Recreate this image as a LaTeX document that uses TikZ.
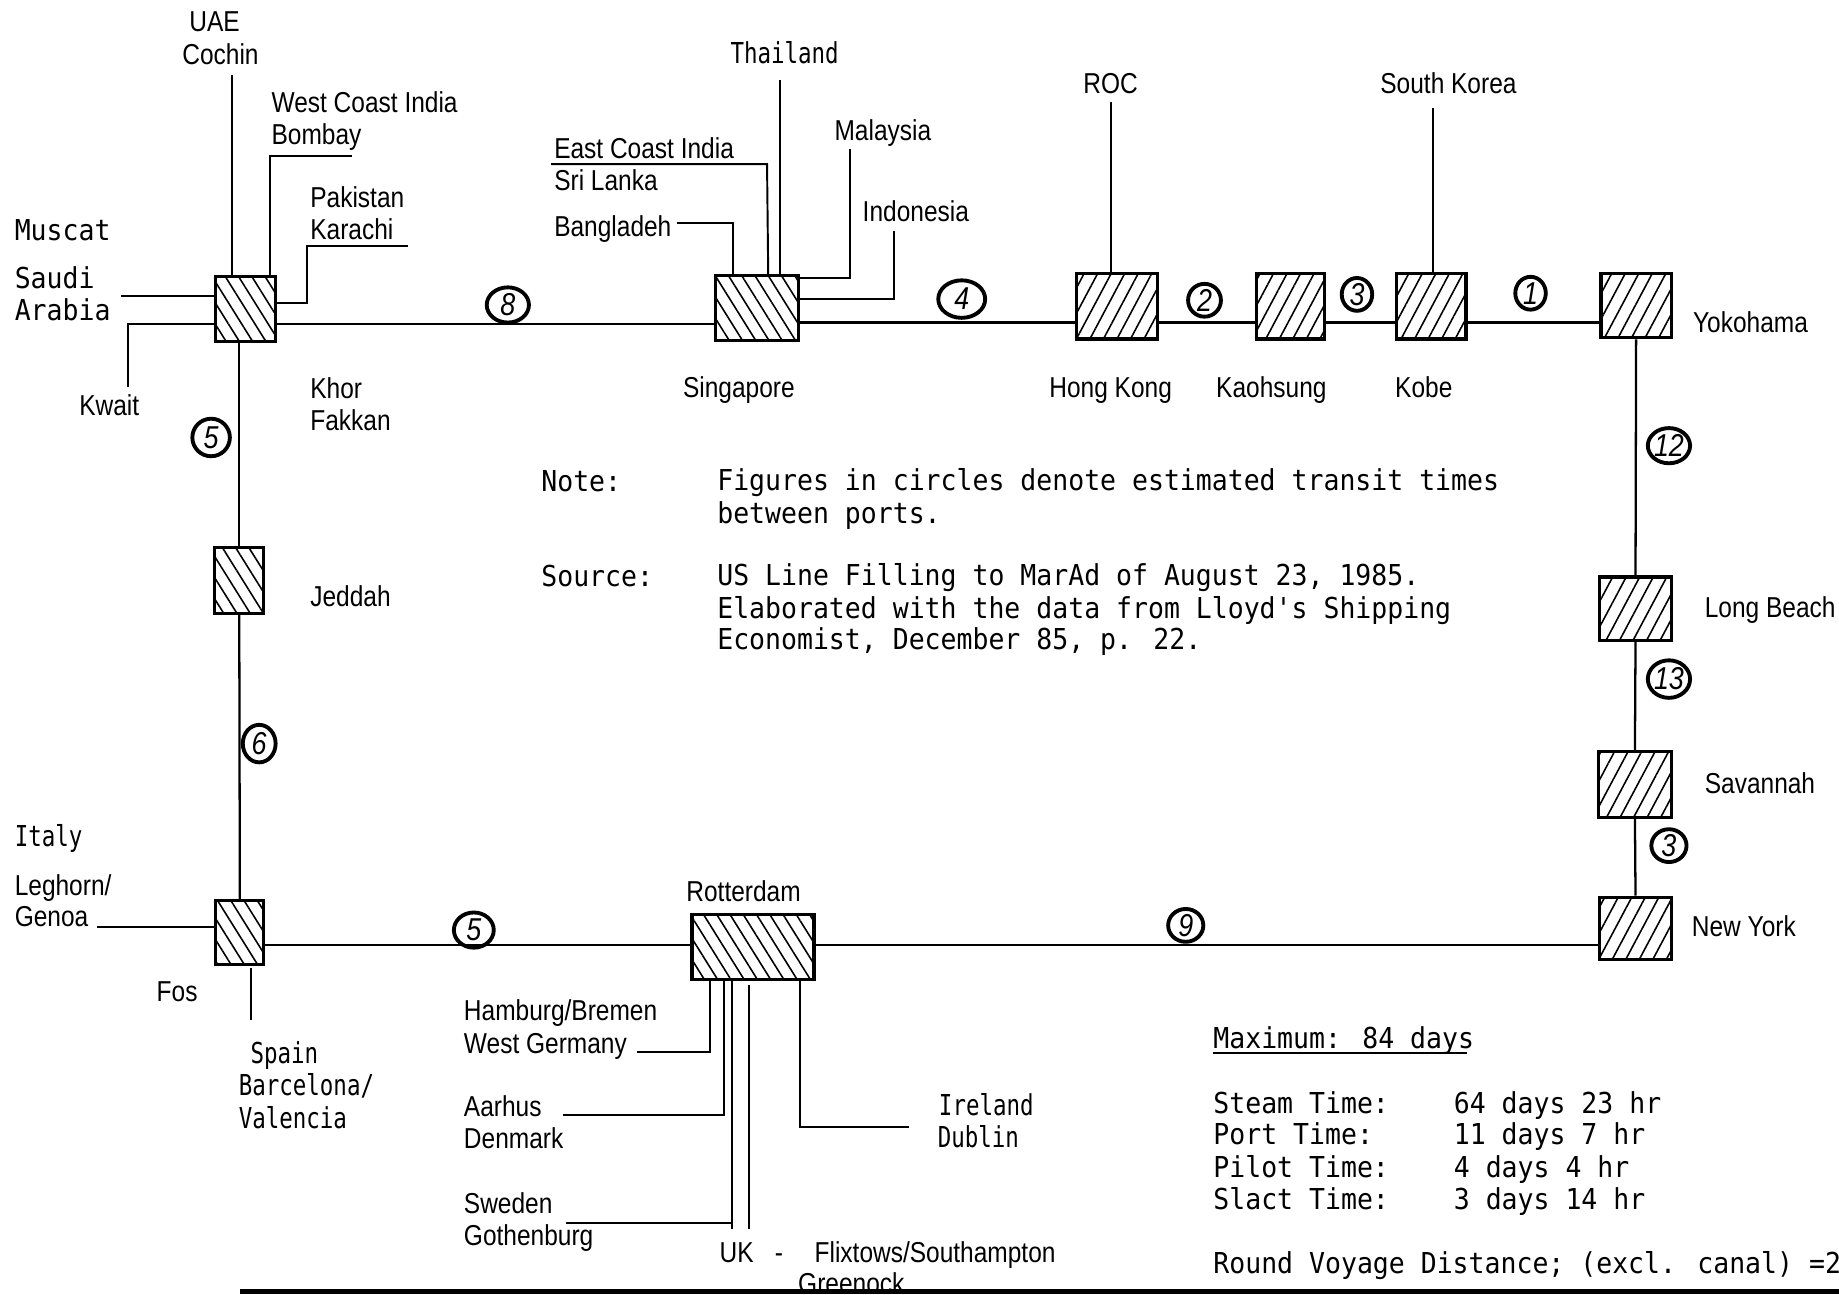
\documentclass[tikz,border=0pt]{standalone}
\usepackage{fontspec}
\newfontfamily\lblfont[FakeStretch=0.85]{Liberation Sans}
\newfontfamily\dmono[FakeStretch=0.92]{DejaVu Sans Mono}
\newfontfamily\dmonon[FakeStretch=0.78]{DejaVu Sans Mono}
\usetikzlibrary{patterns.meta,shapes.geometric}
\newcommand\pxu{0.011728cm}
\tikzset{
  sz/.style 2 args={minimum width=#1*\pxu, minimum height=#2*\pxu},
  port/.style={draw, line width=0.9pt, inner sep=0pt},
  pnw/.style={port, pattern={Lines[angle=-58,distance=3.2pt,line width=0.45pt]}},
  pne/.style={port, pattern={Lines[angle=62,distance=3.4pt,line width=0.45pt]}},
  lab/.style={font=\lblfont\fontsize{8.2}{10}\selectfont, inner sep=0pt, text height=5.9pt, text depth=0pt, anchor=west},
  labc/.style={lab, anchor=center},
  mono/.style={font=\dmono\fontsize{8.2}{10}\selectfont, inner sep=0pt, text height=6pt, text depth=0pt, anchor=west},
  monon/.style={mono, font=\dmonon\fontsize{8.2}{10}\selectfont},
  tc/.style={ellipse, draw, line width=1.1pt, inner sep=0pt, font=\lblfont\itshape\fontsize{9}{10}\selectfont, minimum width=32*\pxu, minimum height=29*\pxu},
  conn/.style={line width=0.65pt},
  lead/.style={line width=0.55pt},
}
\begin{document}
\begin{tikzpicture}[x=0.011728cm,y=-0.011728cm]
\useasboundingbox (0,0) rectangle (1568,1104);
\clip (0,0) rectangle (1568,1104);
\fill[white] (0,0) rectangle (1568,1104);

% ports
\node[pnw, sz={51}{55}] (khor) at (209.5,263.5) {};
\node[pnw, sz={71}{55}] (sing) at (645.5,262.5) {};
\node[pne, sz={69}{56}] (hk) at (952.5,261) {};
\node[pne, sz={58}{56}] (kao) at (1100,261) {};
\node[pne, sz={59}{56}] (kobe) at (1220.5,261) {};
\node[pne, sz={60}{55}] (yoko) at (1395,260.5) {};
\node[pne, sz={61}{54}] (lb) at (1394.5,519) {};
\node[pne, sz={62}{56}] (sav) at (1394,669) {};
\node[pne, sz={61}{53}] (ny) at (1394.5,791.5) {};
\node[pnw, sz={104}{55}] (rott) at (642,807.5) {};
\node[pnw, sz={41}{54}] (fos) at (204.5,795) {};
\node[pnw, sz={42}{56}] (jed) at (204,495) {};

% route
\draw[conn] (khor.east |- 0,276) -- (sing.west |- 0,276);
\draw[conn] (sing.east |- 0,275) -- (hk.west |- 0,275);
\draw[conn] (hk.east |- 0,275) -- (kao.west |- 0,275);
\draw[conn] (kao.east |- 0,275) -- (kobe.west |- 0,275);
\draw[conn] (kobe.east |- 0,275) -- (yoko.west |- 0,275);
\draw[conn] (yoko.south) -- (lb.north);
\draw[conn] (lb.south) -- (sav.north);
\draw[conn] (sav.south) -- (ny.north);
\draw[conn] (ny.west |- 0,806) -- (rott.east |- 0,806);
\draw[conn] (rott.west |- 0,806) -- (fos.east |- 0,806);
\draw[conn] (fos.north) -- (jed.south);
\draw[conn] (jed.north) -- (jed.north |- khor.south);

% Khor Fakkan leaders
\coordinate (uae) at (198,64);
\draw[lead] (uae) -- (uae |- khor.north);
\coordinate (wci) at (300,133);
\draw[lead] (wci) -- (230,133) -- (230,0 |- khor.north);
\coordinate (pak) at (348,210);
\draw[lead] (pak) -- (262,210) -- (262,258) -- (khor.east |- 0,258);
\coordinate (sau) at (103,252);
\draw[lead] (sau) -- (khor.west |- sau);
\coordinate (kwa) at (109,330);
\draw[lead] (kwa) -- (109,276) -- (khor.west |- 0,276);

% Singapore leaders
\coordinate (ban) at (577,190);
\draw[lead] (ban) -- (625,190) -- (625,0 |- sing.north);
\coordinate (eci) at (470,140);
\draw[lead] (eci) -- (654,140) -- (655,0 |- sing.north);
\coordinate (tha) at (665,68);
\draw[lead] (tha) -- (tha |- sing.north);
\coordinate (mal) at (725,127);
\draw[lead] (mal) -- (725,237) -- (sing.east |- 0,237);
\coordinate (ind) at (762,197);
\draw[lead] (ind) -- (762,255) -- (sing.east |- 0,255);

% ROC, South Korea
\coordinate (roc) at (947,87);
\draw[lead] (roc) -- (roc |- hk.north);
\coordinate (sko) at (1222,92);
\draw[lead] (sko) -- (sko |- kobe.north);

% Fos leaders
\coordinate (leg) at (83,790);
\draw[lead] (leg) -- (fos.west |- leg);
\coordinate (spa) at (214,870);
\draw[lead] (spa) -- (214,825);

% Rotterdam leaders
\coordinate (ham) at (543,897);
\draw[lead] (ham) -- (605,897) -- (605,0 |- rott.south);
\coordinate (aar) at (480,951);
\draw[lead] (aar) -- (617,951) -- (617,0 |- rott.south);
\coordinate (swe) at (483,1043);
\draw[lead] (swe) -- (624,1043);
\draw[lead] (624,1048) -- (624,0 |- rott.south);
\coordinate (uk) at (639,1048);
\draw[lead] (uk) -- (639,840);
\coordinate (ire) at (775,961);
\draw[lead] (ire) -- (682,961) -- (682,0 |- rott.south);

% transit-time circles
\node[tc, sz={36}{30}] (c8) at (433,260) {8};
\node[tc, sz={40}{32}] (c4) at (820,255) {4};
\node[tc, sz={28}{28}] (c2) at (1027,256) {2};
\node[tc, sz={26}{28}] (c3a) at (1157,251) {3};
\node[tc, sz={26}{28}] (c1) at (1305,250) {1};
\node[tc, sz={36}{30}] (c12) at (1423,380) {12};
\node[tc, sz={34}{32}] (c13) at (1423,579) {13};
\node[tc, sz={30}{28}] (c3b) at (1423,721) {3};
\node[tc, sz={30}{28}] (c9) at (1011,789) {9};
\node[tc, sz={34}{30}] (c5a) at (404,793) {5};
\node[tc, sz={28}{32}] (c6) at (221,634) {6};
\node[tc, sz={32}{32}] (c5b) at (180,373) {5};

% labels left/top
\node[labc] (tUAE) at (183,18) {UAE};
\node[labc] (tCoc) at (188,46) {Cochin};
\node[lab] (tWCI) at (231,87) {West Coast India};
\node[lab] (tBom) at (231,114) {Bombay};
\node[lab] (tPak) at (264,168) {Pakistan};
\node[lab] (tKar) at (264,195) {Karachi};
\node[mono] (tMus) at (12,196) {Muscat};
\node[mono] (tSau) at (12,237) {Saudi};
\node[mono] (tAra) at (12,264) {Arabia};
\node[lab] (tKwa) at (67,345) {Kwait};
\node[lab] (tKho) at (264,331) {Khor};
\node[lab] (tFak) at (264,358) {Fakkan};
\node[lab] (tJed) at (264,508) {Jeddah};
\node[monon] (tIta) at (12,713) {Italy};
\node[lab] (tLeg) at (12,755) {Leghorn/};
\node[lab] (tGen) at (12,781) {Genoa};
\node[lab] (tFos) at (133,845) {Fos};
\node[monon] (tSpa) at (213,898) {Spain};
\node[monon] (tBar) at (203,925) {Barcelona/};
\node[monon] (tVal) at (203,953) {Valencia};

% Singapore labels
\node[monon, anchor=center] (tTha) at (669,45) {Thailand};
\node[lab] (tMal) at (711,111) {Malaysia};
\node[lab] (tInd) at (735,180) {Indonesia};
\node[lab] (tECI) at (472,126) {East Coast India};
\node[lab] (tSri) at (472,154) {Sri Lanka};
\node[lab] (tBan) at (472,193) {Bangladeh};
\node[labc] (tSin) at (630,330) {Singapore};

% Far East labels
\node[labc] (tROC) at (947,71) {ROC};
\node[labc] (tSKo) at (1235,71) {South Korea};
\node[labc] (tHK) at (947,330) {Hong Kong};
\node[labc] (tKao) at (1084,330) {Kaohsung};
\node[labc] (tKob) at (1214,330) {Kobe};
\node[lab] (tYok) at (1443,275) {Yokohama};
\node[lab] (tLB) at (1453,518) {Long Beach};
\node[lab] (tSav) at (1453,668) {Savannah};
\node[lab] (tNY) at (1442,790) {New York};

% Rotterdam labels
\node[labc] (tRot) at (634,760) {Rotterdam};
\node[lab] (tHam) at (395,861) {Hamburg/Bremen};
\node[lab] (tWG) at (395,889) {West Germany};
\node[lab] (tAar) at (395,943) {Aarhus};
\node[lab] (tDen) at (395,970) {Denmark};
\node[lab] (tSwe) at (395,1026) {Sweden};
\node[lab] (tGot) at (395,1053) {Gothenburg};
\node[monon] (tIre) at (800,942) {Ireland};
\node[monon] (tDub) at (799,969) {Dublin};
\node[lab] (tUK) at (613,1068) {UK};
\node[lab] (tDash) at (660,1068) {-};
\node[lab] (tFli) at (694,1068) {Flixtows/Southampton};
\node[lab] (tGre) at (680,1094) {Greenock};

% note
\node[mono] (nNote) at (461,410) {Note:};
\node[mono] (nN1) at (611,409) {Figures in circles denote estimated transit times};
\node[mono] (nN2) at (611,437) {between ports.};
\node[mono] (nSrc) at (461,491) {Source:};
\node[mono] (nS1) at (611,490) {US Line Filling to MarAd of August 23, 1985.};
\node[mono] (nS2) at (611,518) {Elaborated with the data from Lloyd's Shipping};
\node[mono] (nS3) at (611,545) {Economist, December 85, p. 22.};

% summary
\node[mono] (mMax) at (1034,885) {Maximum: 84 days};
\draw[lead] (mMax.south west |- 0,898) -- (1251,898);
\node[mono] (mSt) at (1034,940) {Steam Time:};
\node[mono] (mSt2) at (1239,940) {64 days 23 hr};
\node[mono] (mPo) at (1034,967) {Port Time:};
\node[mono] (mPo2) at (1239,967) {11 days 7 hr};
\node[mono] (mPi) at (1034,995) {Pilot Time:};
\node[mono] (mPi2) at (1239,995) {4 days 4 hr};
\node[mono] (mSl) at (1034,1022) {Slact Time:};
\node[mono] (mSl2) at (1239,1022) {3 days 14 hr};
\node[mono] (mRV) at (1034,1077) {Round Voyage Distance; (excl. canal) =2};

% bottom rule
\draw[line width=1.4pt] (205,1101) -- (1568,1101);
\end{tikzpicture}
\end{document}
